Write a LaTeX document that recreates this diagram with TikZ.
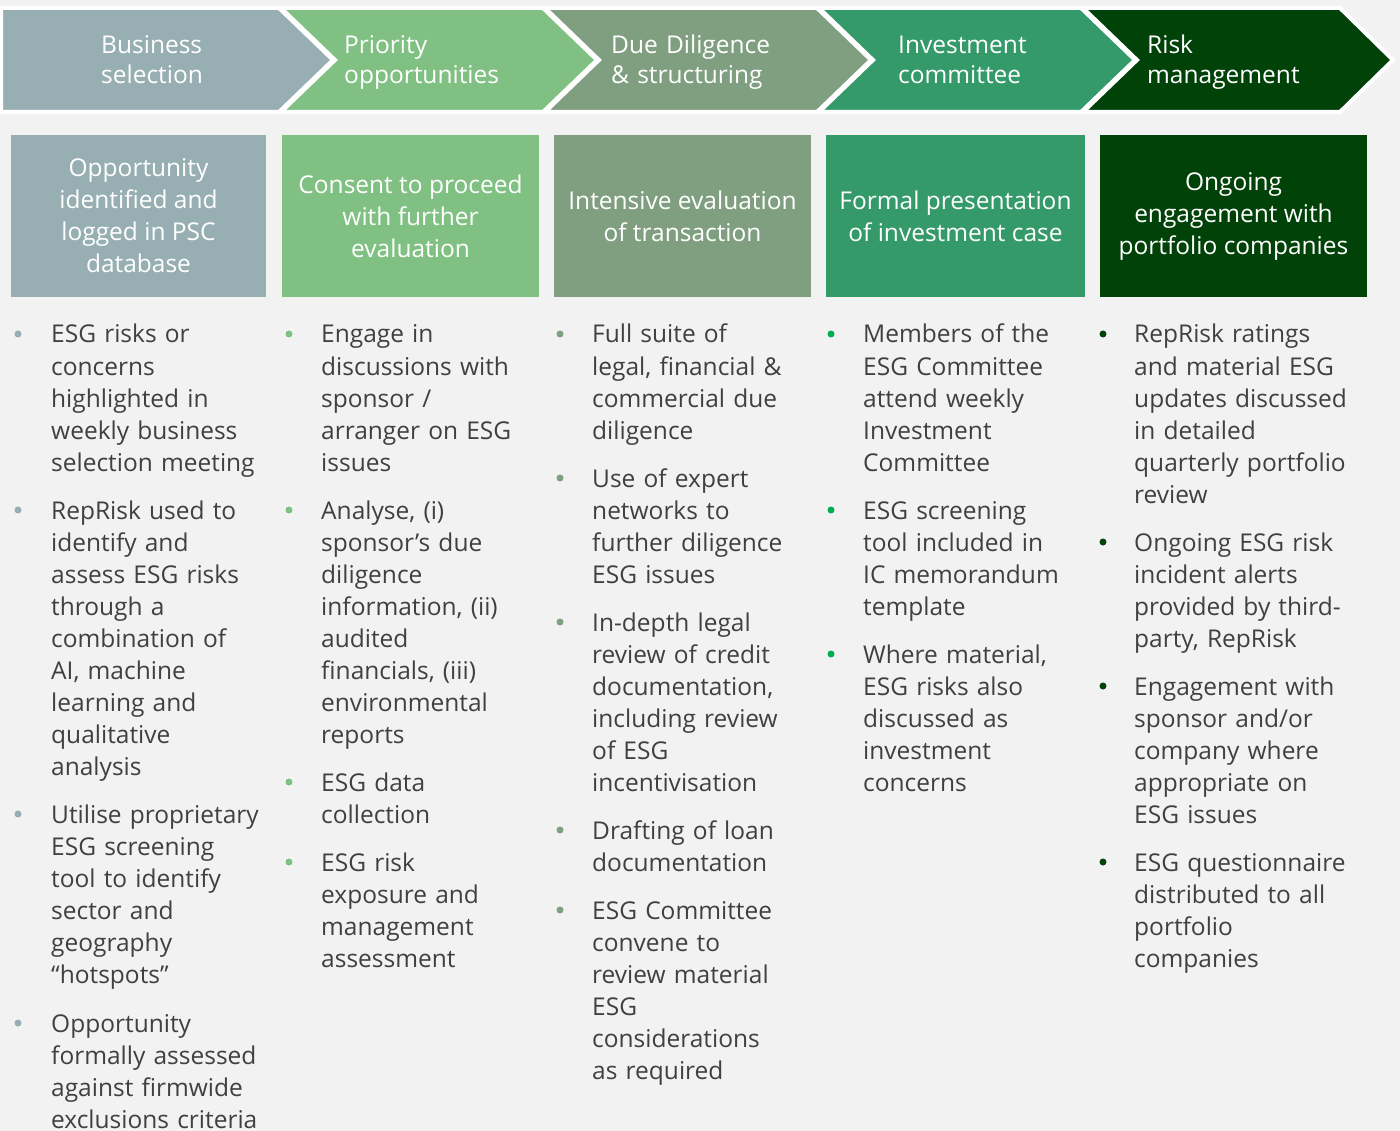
\documentclass[tikz,border=0pt]{standalone}
\usepackage{fontspec}
\setmainfont{Open Sans}
\usetikzlibrary{positioning}

\definecolor{selgray}{HTML}{97AFB2}
\definecolor{prigreen}{HTML}{80C183}
\definecolor{duegreen}{HTML}{809F80}
\definecolor{invgreen}{HTML}{349A6A}
\definecolor{invdot}{HTML}{00B050}
\definecolor{riskgreen}{HTML}{004208}
\definecolor{bgcol}{HTML}{F2F2F2}
\definecolor{txtgray}{HTML}{404040}

\begin{document}
\begin{tikzpicture}[x=1pt,y=-1pt,
    phase/.style={fill=#1,draw=white,line width=4pt,line join=miter},
    phasetext/.style={anchor=base west,text=white,text width=220,align=left,inner sep=0,
      font=\fontsize{24.5}{29.5}\selectfont},
    stagebox/.style={fill=#1,text=white,align=center,inner sep=0,
      minimum height=162,font=\fontsize{24.5}{32}\selectfont},
    item/.style={anchor=base west,text=txtgray,text width=250,align=left,
      inner sep=0,font=\fontsize{24.5}{32.1}\selectfont}]

  \clip (0,0) rectangle (1400,1131);
  \fill[bgcol] (0,0) rectangle (1400,1131);

  % process chevrons
  \path[phase=selgray]   (1,8) -- (279,8) -- (333,60) -- (279,112) -- (1,112) -- cycle;
  \path[phase=prigreen]  (281,8) -- (543,8) -- (597,60) -- (543,112) -- (281,112) -- (335,60) -- cycle;
  \path[phase=duegreen]  (545,8) -- (817,8) -- (871,60) -- (817,112) -- (545,112) -- (599,60) -- cycle;
  \path[phase=invgreen]  (819,8) -- (1081,8) -- (1135,60) -- (1081,112) -- (819,112) -- (873,60) -- cycle;
  \path[phase=riskgreen] (1083,8) -- (1340,8) -- (1393,60) -- (1340,112) -- (1083,112) -- (1137,60) -- cycle;

  \node[phasetext] (p1) at (101,54)  {Business\\selection};
  \node[phasetext] (p2) at (344,54)  {Priority\\opportunities};
  \node[phasetext] (p3) at (611,54)  {Due Diligence\\\& structuring};
  \node[phasetext] (p4) at (898,54)  {Investment\\committee};
  \node[phasetext] (p5) at (1147,54) {Risk\\management};

  % stage boxes
  \node[stagebox=selgray,   minimum width=255] (b1) at (138.5,216)  {Opportunity\\identified and\\logged in PSC\\database};
  \node[stagebox=prigreen,  minimum width=257] (b2) at (410.5,216)  {Consent to proceed\\with further\\evaluation};
  \node[stagebox=duegreen,  minimum width=257] (b3) at (682.5,216)  {Intensive evaluation\\of transaction};
  \node[stagebox=invgreen,  minimum width=259] (b4) at (955.5,216)  {Formal presentation\\of investment case};
  \node[stagebox=riskgreen, minimum width=267] (b5) at (1233.5,216) {Ongoing\\engagement with\\portfolio companies};

  % column 1
  \node[item] (c1a) at (51,343)  {ESG risks or\\concerns\\highlighted in\\weekly business\\selection meeting};
  \node[item] (c1b) at (51,519)  {RepRisk used to\\identify and\\assess ESG risks\\through a\\combination of\\AI, machine\\learning and\\qualitative\\analysis};
  \node[item] (c1c) at (51,823)  {Utilise proprietary\\ESG screening\\tool to identify\\sector and\\geography\\“hotspots”};
  \node[item] (c1d) at (51,1032) {Opportunity\\formally assessed\\against firmwide\\exclusions criteria};

  % column 2
  \node[item] (c2a) at (321,343) {Engage in\\discussions with\\sponsor /\\arranger on ESG\\issues};
  \node[item] (c2b) at (321,519) {Analyse, (i)\\sponsor’s due\\diligence\\information, (ii)\\audited\\financials, (iii)\\environmental\\reports};
  \node[item] (c2c) at (321,791) {ESG data\\collection};
  \node[item] (c2d) at (321,871) {ESG risk\\exposure and\\management\\assessment};

  % column 3
  \node[item] (c3a) at (592,343) {Full suite of\\legal, financial \&\\commercial due\\diligence};
  \node[item] (c3b) at (592,487) {Use of expert\\networks to\\further diligence\\ESG issues};
  \node[item] (c3c) at (592,631) {In-depth legal\\review of credit\\documentation,\\including review\\of ESG\\incentivisation};
  \node[item] (c3d) at (592,839) {Drafting of loan\\documentation};
  \node[item] (c3e) at (592,919) {ESG Committee\\convene to\\review material\\ESG\\considerations\\as required};

  % column 4
  \node[item] (c4a) at (863,343) {Members of the\\ESG Committee\\attend weekly\\Investment\\Committee};
  \node[item] (c4b) at (863,519) {ESG screening\\tool included in\\IC memorandum\\template};
  \node[item] (c4c) at (863,663) {Where material,\\ESG risks also\\discussed as\\investment\\concerns};

  % column 5
  \node[item] (c5a) at (1134,343) {RepRisk ratings\\and material ESG\\updates discussed\\in detailed\\quarterly portfolio\\review};
  \node[item] (c5b) at (1134,551) {Ongoing ESG risk\\incident alerts\\provided by third-\\party, RepRisk};
  \node[item] (c5c) at (1134,695) {Engagement with\\sponsor and/or\\company where\\appropriate on\\ESG issues};
  \node[item] (c5d) at (1134,871) {ESG questionnaire\\distributed to all\\portfolio\\companies};

  % bullets
  \foreach \n in {c1a,c1b,c1c,c1d}
    \fill[selgray] (\n.base west) ++(-33,-9) circle (3.5);
  \foreach \n in {c2a,c2b,c2c,c2d}
    \fill[prigreen] (\n.base west) ++(-32,-9) circle (3.5);
  \foreach \n in {c3a,c3b,c3c,c3d,c3e}
    \fill[duegreen] (\n.base west) ++(-32,-9) circle (3.5);
  \foreach \n in {c4a,c4b,c4c}
    \fill[invdot] (\n.base west) ++(-32,-9) circle (3.5);
  \foreach \n in {c5a,c5b,c5c,c5d}
    \fill[riskgreen] (\n.base west) ++(-31,-9) circle (3.5);
\end{tikzpicture}
\end{document}
